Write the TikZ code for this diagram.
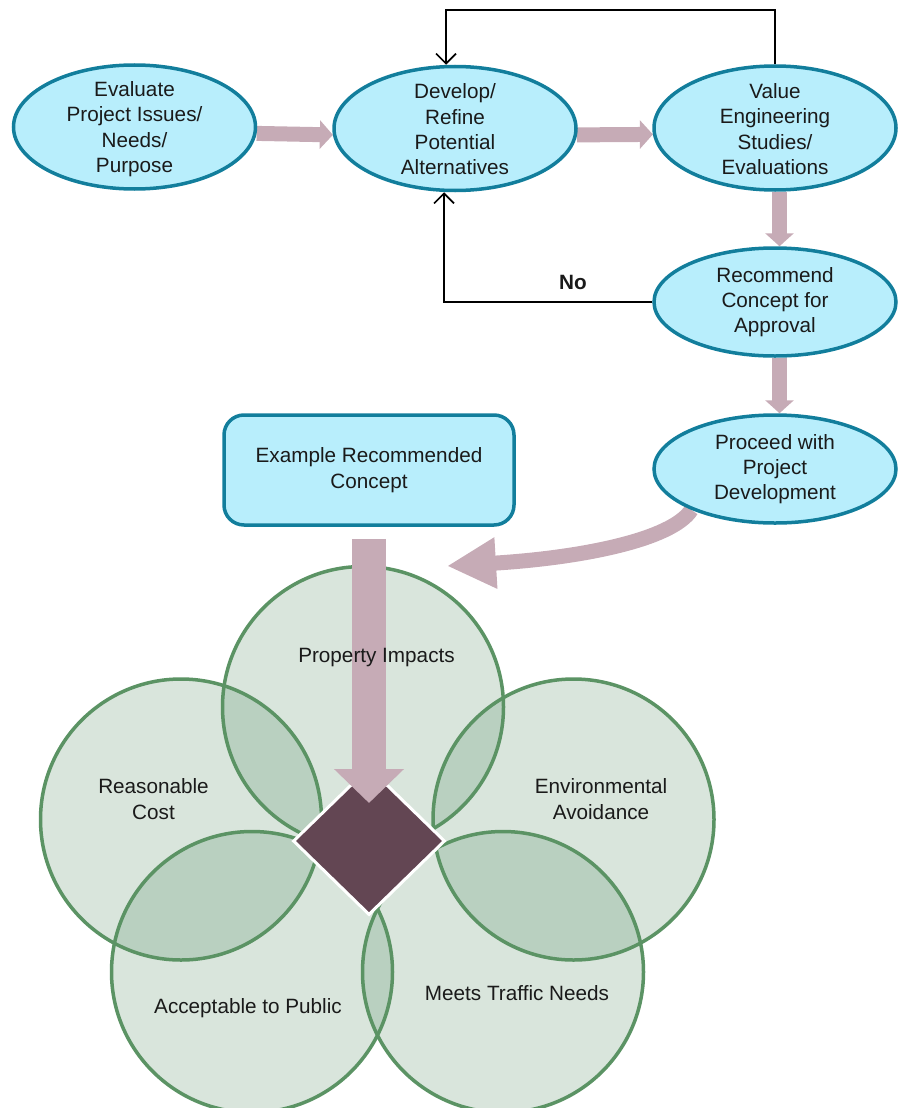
\documentclass[tikz,border=0pt]{standalone}
\usepackage{fontspec}
\setmainfont{Liberation Sans}
\usetikzlibrary{shapes.geometric,arrows.meta,calc}
\definecolor{cyanfill}{HTML}{B8EEFC}
\definecolor{cyandraw}{HTML}{127E9C}
\definecolor{pinkarr}{HTML}{C6ABB6}
\definecolor{circfill}{HTML}{D9E5DC}
\definecolor{circover}{HTML}{B9D0C0}
\definecolor{circline}{HTML}{5B9364}
\definecolor{dmfill}{HTML}{634653}
\definecolor{txtc}{HTML}{1A1A1A}
\pgfdeclarelayer{bg}
\pgfsetlayers{bg,main}
\begin{document}
\begin{tikzpicture}[x=1pt,y=-1pt,
  flow/.style={ellipse, draw=cyandraw, fill=cyanfill, line width=3.5pt, minimum width=242pt, minimum height=124pt, inner sep=0pt},
  flowsm/.style={flow, minimum height=108pt},
  txt/.style={align=center, text=txtc, font=\fontsize{20.7}{25.3}\selectfont, inner sep=0pt},
  fat/.style={draw=pinkarr, line width=15pt, -{Triangle[length=13pt,width=28pt]}},
  fb/.style={draw=black, line width=1.8pt, -{Straight Barb[length=10pt,width=20pt,line width=1.6pt]}},
  ring/.style={draw=circline, line width=3.5pt}
]
\useasboundingbox (0,0) rectangle (904,1108);

% circle centres
\coordinate (cP) at (363,707);
\coordinate (cR) at (181,819.5);
\coordinate (cE) at (573.5,819.5);
\coordinate (cA) at (252,972);
\coordinate (cM) at (503,972);

% flow nodes
\node[flow] (e1) at (134.5,127) {};
\node[flow] (dv) at (455,128.5) {};
\node[flow] (ve) at (775,128) {};
\node[flowsm] (rc) at (775,302) {};
\node[flowsm] (pd) at (775,469) {};
\node[draw=cyandraw, fill=cyanfill, line width=3.5pt, rounded corners=20pt, minimum width=290pt, minimum height=110pt, inner sep=0pt] (ex) at (369,470) {};

\node[txt] at ([yshift=-2pt]e1.center) {Evaluate\\Project Issues/\\Needs/\\Purpose};
\node[txt] at ([yshift=-1pt]dv.center) {Develop/\\Refine\\Potential\\Alternatives};
\node[txt] at ([yshift=-1pt]ve.center) {Value\\Engineering\\Studies/\\Evaluations};
\node[txt] at (rc) {Recommend\\Concept for\\Approval};
\node[txt] at (pd) {Proceed with\\Project\\Development};
\node[txt] at (ex) {Example Recommended\\Concept};

\begin{pgfonlayer}{bg}
  % circles
  \foreach \c in {cP,cR,cE,cA,cM} { \fill[circfill] (\c) circle (140.5pt); }
  \begin{scope}
    \clip (cP) circle (140.5pt);
    \fill[circover] (cR) circle (140.5pt);
    \fill[circover] (cE) circle (140.5pt);
  \end{scope}
  \begin{scope}
    \clip (cA) circle (140.5pt);
    \fill[circover] (cR) circle (140.5pt);
    \fill[circover] (cM) circle (140.5pt);
  \end{scope}
  \begin{scope}
    \clip (cM) circle (140.5pt);
    \fill[circover] (cE) circle (140.5pt);
  \end{scope}
  \foreach \c in {cP,cR,cE,cA,cM} { \draw[ring] (\c) circle (140.5pt); }

  % pink flow arrows
  \draw[fat] (e1.-3) -- (dv.183);
  \draw[fat] (dv.-3) -- (ve.183);
  \draw[fat] ([xshift=4.5pt]ve.south) -- ([xshift=4.5pt]rc.north);
  \draw[fat] ([xshift=4.5pt]rc.south) -- ([xshift=4.5pt]pd.north);
  \coordinate (ctip) at (447,566);
  \draw[draw=pinkarr, line width=15pt, -{Triangle[length=49pt,width=48pt]}]
    (pd.206) .. controls (672,540) and (580,558) .. (ctip);
\end{pgfonlayer}

% feedback loops
\coordinate (top) at (446,10);
\draw[fb] (ve.north) |- (top) -- (top |- dv.north);
\coordinate (nc) at (444,302);
\draw[fb] (rc.west) -- (nc) -- (nc |- dv.south);
\node[txt, font=\fontsize{20.7}{24}\selectfont\bfseries] at (573,282) {No};

% diamond and big arrow
\node[diamond, fill=dmfill, draw=white, line width=3pt, minimum width=152pt, minimum height=148pt, inner sep=0pt] (dm) at (369,841) {};
\draw[draw=pinkarr, line width=34pt, -{Triangle[length=34pt,width=68pt]}, shorten <=12pt, shorten >=38pt] (ex.south) -- (dm.center);

% circle labels
\node[txt] (lP) at (376.5,658) {Property Impacts};
\node[txt] (lR) at (153.5,799) {Reasonable\\Cost};
\node[txt] (lE) at (601,799) {Environmental\\Avoidance};
\node[txt] (lA) at (248,1008) {Acceptable to Public};
\node[txt] (lM) at (517,993) {Meets Traffic Needs};
\end{tikzpicture}
\end{document}
